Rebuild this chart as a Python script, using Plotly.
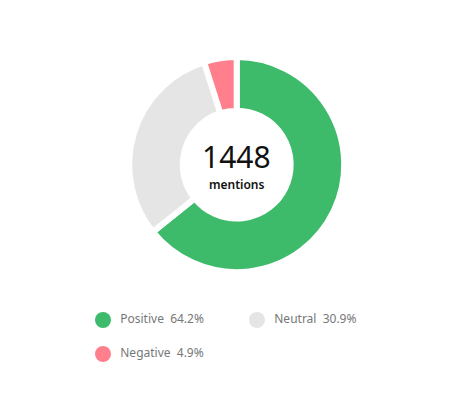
import plotly.graph_objects as go

labels = ["Positive", "Neutral", "Negative"]
counts = [930, 447, 71]
percents = [64.2, 30.9, 4.9]
colors = ["#3DBB6B", "#E5E5E5", "#FF808C"]
total_label = "1448"
sub_label = "mentions"

W, H = 473, 399
cx, cy, R = 236.7, 164.6, 107.5


def px_x(v):
    return v / W


def px_y(v):
    return 1 - v / H


fig = go.Figure()
fig.add_trace(go.Pie(
    labels=labels, values=counts, sort=False, direction="clockwise", rotation=0,
    hole=0.502, textinfo="none", hoverinfo="label+percent",
    marker=dict(colors=colors, line=dict(color="white", width=6)),
    domain=dict(x=[px_x(cx - R), px_x(cx + R)], y=[px_y(cy + R), px_y(cy - R)]),
    showlegend=False,
))

# legend built from data
leg_x = [103, 257, 103]
leg_y = [320, 320, 354]
fig.add_trace(go.Scatter(
    x=leg_x, y=leg_y, mode="markers+text",
    marker=dict(size=16, color=colors),
    text=["  " + l + "  " + f"{p:.1f}%" for l, p in zip(labels, percents)],
    textposition="middle right",
    textfont=dict(family="Noto Sans, sans-serif", size=12, color="#777777"),
    hoverinfo="skip", showlegend=False, cliponaxis=False,
))

fig.add_annotation(x=px_x(cx), y=px_y(157), xref="paper", yref="paper",
                   text=total_label, showarrow=False, yanchor="middle",
                   font=dict(family="Noto Sans, sans-serif", size=30, color="#111111"))
fig.add_annotation(x=px_x(cx), y=px_y(184.5), xref="paper", yref="paper",
                   text=sub_label, showarrow=False, yanchor="middle",
                   font=dict(family="Noto Sans, sans-serif", size=12, color="#111111", weight=600))

fig.update_layout(
    width=W, height=H, margin=dict(l=0, r=0, t=0, b=0),
    paper_bgcolor="white", plot_bgcolor="white",
    xaxis=dict(range=[0, W], visible=False, domain=[0, 1], fixedrange=True),
    yaxis=dict(range=[H, 0], visible=False, domain=[0, 1], fixedrange=True),
)
fig.write_html("out.html", config={"displayModeBar": False},
               post_script="document.body.style.margin='0';document.body.style.overflow='hidden';")
